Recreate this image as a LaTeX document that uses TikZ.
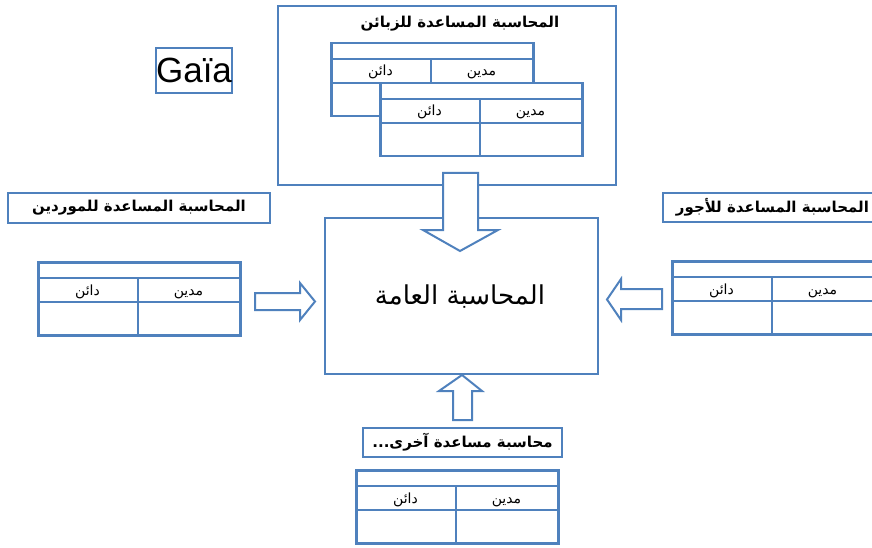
\documentclass[tikz,border=0pt]{standalone}
\usepackage{fontspec}
\setmainfont{Liberation Sans}
\newfontfamily\arabicfont[Script=Arabic]{DejaVu Sans}
\TeXXeTstate=1
\newcommand{\artext}[1]{{\arabicfont\beginR #1\endR}}
\definecolor{ledgerblue}{HTML}{4F81BD}

\tikzset{
  framebox/.style={draw=ledgerblue, line width=2.4pt, inner sep=0pt},
  titlebox/.style={draw=ledgerblue, line width=2.6pt, fill=white, inner sep=0pt,
    font=\bfseries\fontsize{15}{18}\selectfont},
  ledgerframe/.style={draw=ledgerblue, line width=2.5pt, fill=white, inner sep=0pt,
    anchor=north west, minimum width=202pt, minimum height=73pt},
  ledgerrule/.style={draw=ledgerblue, line width=2.5pt},
  cell/.style={inner sep=0pt, anchor=base, font=\fontsize{14}{16}\selectfont},
  blockarrow/.style={draw=ledgerblue, line width=2pt, fill=white, line join=miter},
  % a T-account: title row, debit/credit heading row, empty row
  ledger/.pic={
    \node[ledgerframe] (-frame) at (0,0) {};
    \draw[ledgerrule] (0,17) -- (202,17) (0,41) -- (202,41) (101,17) -- (101,73);
    \node[cell] (-credit) at (50.5,34) {\artext{دائن}};
    \node[cell] (-debit) at (151.5,34) {\artext{مدين}};
  }
}

\begin{document}
\begin{tikzpicture}[x=1pt, y=-1pt]
  \useasboundingbox[fill=white] (0,0) rectangle (872,548);

  % logo
  \node[draw=ledgerblue, line width=1.3pt, minimum width=76pt, minimum height=45pt,
        inner sep=0pt, font=\fontsize{35}{40}\selectfont] (logo) at (194,70.5) {Gaïa};

  % customers sub-ledger
  \node[framebox, anchor=north west, minimum width=338pt, minimum height=179pt] (clients) at (277,5) {};
  \node[inner sep=0pt, font=\bfseries\fontsize{15}{18}\selectfont] (clientstitle) at (460,24)
        {\artext{المحاسبة المساعدة للزبائن}};
  \pic (clientsback) at (330,42) {ledger};
  \pic (clientsfront) at (379,82) {ledger};

  % general ledger
  \node[framebox, minimum width=273pt, minimum height=156pt] (general) at (461.5,296) {};
  \node[inner sep=0pt, font=\fontsize{26}{30}\selectfont] (generaltitle) at (460,297)
        {\artext{المحاسبة العامة}};

  % suppliers sub-ledger
  \node[titlebox, minimum width=262pt, minimum height=30pt] (supplierstitle) at (139,208)
        {\artext{المحاسبة المساعدة للموردين}};
  \pic (suppliers) at (37,261) {ledger};

  % payroll sub-ledger
  \node[titlebox, minimum width=219pt, minimum height=29pt] (payrolltitle) at (772.5,207.5)
        {\artext{المحاسبة المساعدة للأجور}};
  \pic (payroll) at (671,260) {ledger};

  % other sub-ledgers
  \node[titlebox, minimum width=199pt, minimum height=29pt] (othertitle) at (462.5,442.5)
        {\artext{محاسبة مساعدة آخرى...}};
  \pic (other) at (355,469) {ledger};

  % block arrows feeding the general ledger
  \draw[blockarrow] (443,173) -- (478,173) -- (478,230) -- (498,230) -- (460,251)
        -- (423,230) -- (443,230) -- cycle;
  \draw[blockarrow] (255,293) -- (300,293) -- (300,283) -- (315,301.5) -- (300,320)
        -- (300,310) -- (255,310) -- cycle;
  \draw[blockarrow] (662,289) -- (621,289) -- (621,279) -- (607,299.5) -- (621,320)
        -- (621,309) -- (662,309) -- cycle;
  \draw[blockarrow] (453,420) -- (453,391) -- (439,391) -- (462,375) -- (482,391)
        -- (472,391) -- (472,420) -- cycle;
\end{tikzpicture}
\end{document}
